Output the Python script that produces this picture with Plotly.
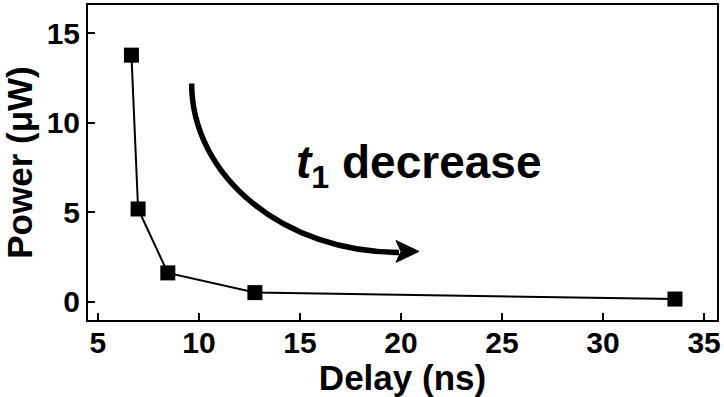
import plotly.graph_objects as go

# Data
delay_ns = [6.66, 6.99, 8.46, 12.77, 33.56]
power_uW = [13.77, 5.18, 1.61, 0.51, 0.15]

x_ticks = [5, 10, 15, 20, 25, 30, 35]
y_ticks = [0, 5, 10, 15]

FONT = "Liberation Sans, Arial, sans-serif"

W, H = 724, 397
L, R, T, B = 88, 5, 3, 77
pw, ph = W - L - R, H - T - B


def px(xp):
    return (xp - L) / pw


def py(yp):
    return 1 - (yp - T) / ph


fig = go.Figure()
fig.add_trace(go.Scatter(
    x=delay_ns, y=power_uW, mode="lines+markers",
    line=dict(color="black", width=2),
    marker=dict(symbol="square", size=15, color="black"),
    showlegend=False,
))

# curved arrow (quarter-ellipse as bezier) in paper coordinates
x0, y0 = 192, 82
x1, y1 = 400, 252
k = 0.552
c1 = (x0, y0 + k * (y1 - y0))
c2 = (x1 - k * (x1 - x0), y1)
path = (f"M {px(x0)},{py(y0)} C {px(c1[0])},{py(c1[1])} "
        f"{px(c2[0])},{py(c2[1])} {px(x1)},{py(y1)}")
fig.add_shape(type="path", path=path, xref="paper", yref="paper",
              line=dict(color="black", width=5.5))
head = (f"M {px(420)},{py(251)} L {px(397)},{py(240)} L {px(402)},{py(251)} "
        f"L {px(397)},{py(262)} Z")
fig.add_shape(type="path", path=head, xref="paper", yref="paper",
              line=dict(color="black", width=1), fillcolor="black")

fig.add_annotation(
    x=px(295), y=py(165), xref="paper", yref="paper",
    xanchor="left", yanchor="middle", showarrow=False,
    text="<b><i>t</i><sub>1</sub> decrease</b>",
    font=dict(family=FONT, size=46, color="black"),
)

axis_common = dict(
    showline=True, linecolor="black", linewidth=2, mirror=True,
    ticks="inside", ticklen=7, tickwidth=2, tickcolor="black",
    showgrid=False, zeroline=False,
    tickfont=dict(family=FONT, size=30, color="black", weight="bold"),
)

fig.update_xaxes(
    range=[4.51, 35.64], tickvals=x_ticks, ticktext=[str(v) for v in x_ticks],
    title=dict(text="<b>Delay (ns)</b>", font=dict(family=FONT, size=35, color="black"), standoff=8),
    ticklabelstandoff=-5,
    **axis_common,
)
fig.update_yaxes(
    range=[-1.02, 16.57], tickvals=y_ticks, ticktext=[str(v) for v in y_ticks],
    title=dict(text="<b>Power (μW)</b>", font=dict(family=FONT, size=35, color="black"), standoff=8),
    ticklabelstandoff=0,
    **axis_common,
)

fig.update_layout(
    width=W, height=H,
    margin=dict(l=L, r=R, t=T, b=B),
    paper_bgcolor="white", plot_bgcolor="white",
)

fig.write_html("out.html")
